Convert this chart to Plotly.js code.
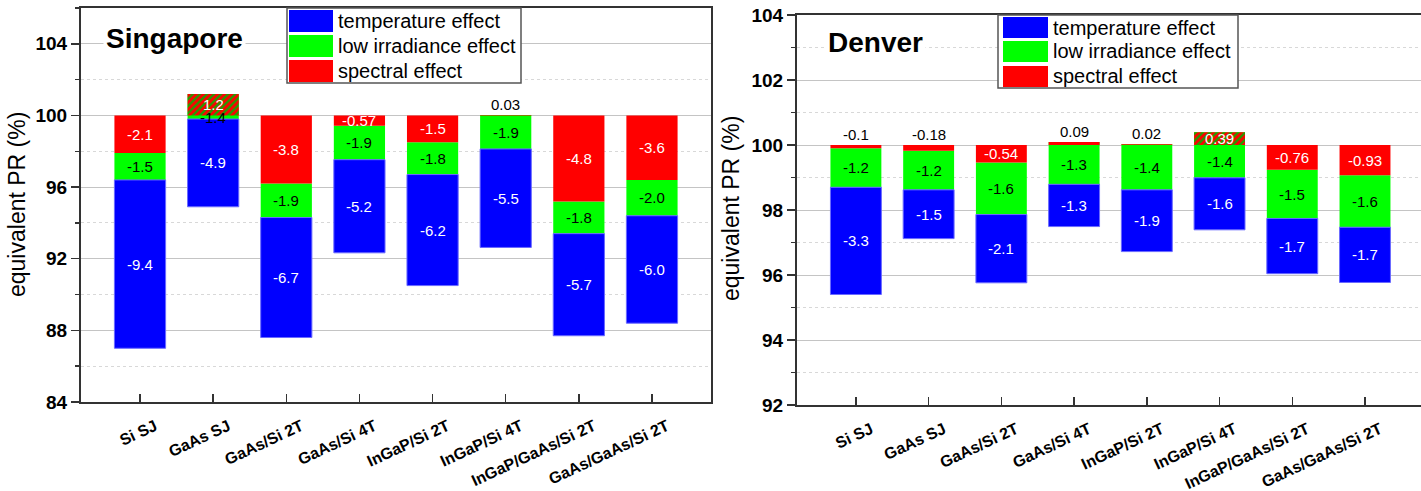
<!DOCTYPE html>
<html><head><meta charset="utf-8">
<script src="https://cdn.plot.ly/plotly-3.0.1.min.js"></script>
<style>html,body{margin:0;padding:0;background:#fff}#chart{width:1421px;height:491px}</style>
</head><body><div id="chart"></div>
<script>
// ---- data ----
const categories = ['Si SJ','GaAs SJ','GaAs/Si 2T','GaAs/Si 4T','InGaP/Si 2T','InGaP/Si 4T','InGaP/GaAs/Si 2T','GaAs/GaAs/Si 2T'];
const seriesNames = ['temperature effect','low irradiance effect','spectral effect'];
const panelTitles = ['Singapore','Denver'];
const yAxisTitle = 'equivalent PR (%)';
const baseline = 100;
// Singapore
const sgSpectral = [-2.1, 1.2, -3.8, -0.57, -1.5, 0.03, -4.8, -3.6];
const sgLowIrr   = [-1.5, -1.4, -1.9, -1.9, -1.8, -1.9, -1.8, -2.0];
const sgTemp     = [-9.4, -4.9, -6.7, -5.2, -6.2, -5.5, -5.7, -6.0];
// Denver
const dnSpectral = [-0.1, -0.18, -0.54, 0.09, 0.02, 0.39, -0.76, -0.93];
const dnLowIrr   = [-1.2, -1.2, -1.6, -1.3, -1.4, -1.4, -1.5, -1.6];
const dnTemp     = [-3.3, -1.5, -2.1, -1.3, -1.9, -1.6, -1.7, -1.7];

// ---- helpers ----
const W = 1421, H = 491;
const px = x => x / W, py = y => 1 - y / H;
const FONT = 'Liberation Sans, Arial, Helvetica, sans-serif';
const C_T = '#0000ff', C_L = '#00ff00', C_S = '#ff0000';
function fmt(v){ const s = String(v); const d = s.includes('.') ? s.split('.')[1].length : 0; return v.toFixed(Math.max(1, d)); }

const traces = [], annotations = [], shapes = [];

function panel(spec, low, temp, xa, ya){
  const axX = xa, axY = ya;
  const lowBase = spec.map(s => baseline + s);
  const tempBase = spec.map((s, i) => baseline + s + low[i]);
  const common = {type:'bar', x:categories, xaxis:axX, yaxis:axY, width:0.7, showlegend:false, hoverinfo:'skip'};
  traces.push(Object.assign({}, common, {name:seriesNames[1], y:low, base:lowBase,
    marker:{color:C_L, line:{width:0}}}));
  traces.push(Object.assign({}, common, {name:seriesNames[0], y:temp, base:tempBase,
    marker:{color:C_T, line:{color:'#6a6aff', width:1}}}));
  traces.push(Object.assign({}, common, {name:seriesNames[2], y:spec, base:spec.map(()=>baseline),
    marker:{color:C_S, line:{width:0},
      pattern:{shape:spec.map(s => s > 0.1 ? '/' : ''), bgcolor:C_S, fgcolor:'#1fa000', size:5, solidity:0.45, fillmode:'replace'}}}));
  const f = {family:FONT, size:15};
  categories.forEach((c, i) => {
    const s = spec[i], l = low[i], t = temp[i];
    if (Math.abs(s) >= 0.3) {
      annotations.push({xref:axX, yref:axY, x:c, y:baseline + s/2, text:fmt(s), showarrow:false,
        font:Object.assign({}, f, {color:'#ffffff'})});
    } else {
      annotations.push({xref:axX, yref:axY, x:c, y:baseline + Math.max(s,0), text:fmt(s), showarrow:false,
        yanchor:'bottom', yshift:0, font:Object.assign({}, f, {color:'#000000'})});
    }
    const gTop = Math.min(baseline, baseline + s), gBot = baseline + s + l;
    annotations.push({xref:axX, yref:axY, x:c, y:(gTop + gBot)/2, text:fmt(l), showarrow:false,
      font:Object.assign({}, f, {color:'#000000'})});
    annotations.push({xref:axX, yref:axY, x:c, y:gBot + t/2, text:fmt(t), showarrow:false,
      font:Object.assign({}, f, {color:'#ffffff'})});
  });
}
panel(sgSpectral, sgLowIrr, sgTemp, 'x', 'y');
panel(dnSpectral, dnLowIrr, dnTemp, 'x2', 'y2');

// custom legends (large swatches like the original)
function legendBox(box, sw, textX, rows){
  shapes.push({type:'rect', xref:'paper', yref:'paper', x0:px(box[0]), x1:px(box[1]), y0:py(box[2]), y1:py(box[3]),
    line:{color:'#555', width:1.5}, fillcolor:'#ffffff', layer:'above'});
  const cols = [C_T, C_L, C_S];
  rows.forEach((r, k) => {
    shapes.push({type:'rect', xref:'paper', yref:'paper', x0:px(sw[0]), x1:px(sw[1]), y0:py(r[0]), y1:py(r[1]),
      line:{width:0}, fillcolor:cols[k], layer:'above'});
    annotations.push({xref:'paper', yref:'paper', x:px(textX), y:py((r[0]+r[1])/2), xanchor:'left', yanchor:'middle',
      text:seriesNames[k], showarrow:false, font:{family:FONT, size:20, color:'#000'}});
  });
}
legendBox([287, 521, 8, 83], [289, 333], 336, [[10,32],[35,57],[60,82]]);
legendBox([998, 1238, 15, 88], [1003, 1048], 1051, [[17,38],[41,62],[66,87]]);

// panel titles
annotations.push({xref:'paper', yref:'paper', x:px(103), y:py(38), xanchor:'left', yanchor:'middle', text:panelTitles[0],
  showarrow:false, bgcolor:'#ffffff', borderpad:2, font:{family:FONT, size:28, weight:'bold', color:'#000'}});
annotations.push({xref:'paper', yref:'paper', x:px(825), y:py(43), xanchor:'left', yanchor:'middle', text:panelTitles[1],
  showarrow:false, bgcolor:'#ffffff', borderpad:2, font:{family:FONT, size:28, weight:'bold', color:'#000'}});
// y axis titles
annotations.push({xref:'paper', yref:'paper', x:px(17), y:py(205), xanchor:'center', yanchor:'middle', textangle:-90,
  text:yAxisTitle, showarrow:false, font:{family:FONT, size:23, color:'#000'}});
annotations.push({xref:'paper', yref:'paper', x:px(731), y:py(208), xanchor:'center', yanchor:'middle', textangle:-90,
  text:yAxisTitle, showarrow:false, font:{family:FONT, size:23, color:'#000'}});

const xBase = {type:'category', showline:true, linecolor:'#333', linewidth:2, mirror:true, ticks:'inside', ticklen:8,
  tickwidth:1.5, tickcolor:'#333', tickangle:-25, showgrid:false, zeroline:false, automargin:false,
  ticklabelshift:15, ticklabelstandoff:7,
  tickfont:{family:FONT, size:16, weight:'bold', color:'#000'}};
const yBase = {showline:true, linecolor:'#333', linewidth:2, ticks:'outside', ticklen:8, tickwidth:1.5, tickcolor:'#333',
  showgrid:true, gridcolor:'#c4c4c4', gridwidth:1, zeroline:false, automargin:false,
  tickfont:{family:FONT, size:19, weight:'bold', color:'#000'}};

const layout = {
  width:W, height:H, margin:{l:0, r:0, t:0, b:0}, paper_bgcolor:'#fff', plot_bgcolor:'#fff',
  barmode:'overlay', showlegend:false, font:{family:FONT},
  xaxis:Object.assign({}, xBase, {domain:[px(81), px(711)], range:[-0.807, 7.807], anchor:'y'}),
  yaxis:Object.assign({}, yBase, {domain:[py(402), py(8)], range:[84, 106], tick0:84, dtick:4, mirror:true, anchor:'x',
    minor:{dtick:2, showgrid:true, gridcolor:'#d8d8d8', griddash:'dot', ticks:'outside', ticklen:4, tickcolor:'#333'}}),
  xaxis2:Object.assign({}, xBase, {domain:[px(797), 1], range:[-0.81, 7.77], anchor:'y2'}),
  yaxis2:Object.assign({}, yBase, {domain:[py(405), py(15)], range:[92, 104], tick0:92, dtick:2, mirror:false, anchor:'x2',
    minor:{dtick:1, showgrid:true, gridcolor:'#d8d8d8', griddash:'dot', ticks:'outside', ticklen:4, tickcolor:'#333'}}),
  annotations:annotations, shapes:shapes
};
Plotly.newPlot('chart', traces, layout, {staticPlot:true, displayModeBar:false});
</script></body></html>
